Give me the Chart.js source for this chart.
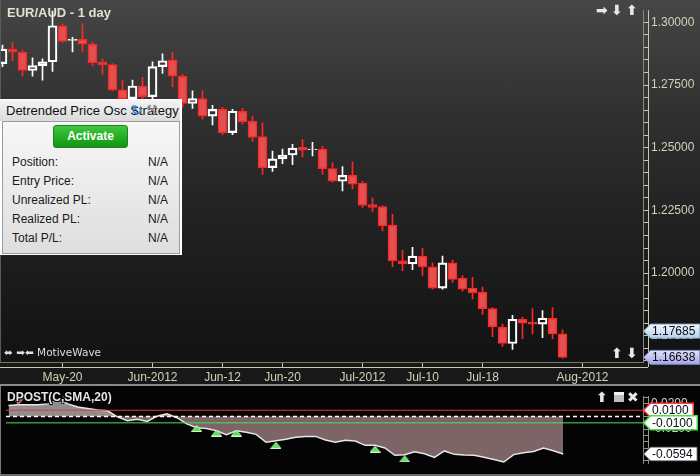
<!DOCTYPE html>
<html><head><meta charset="utf-8">
<script src="https://cdn.jsdelivr.net/npm/chart.js@4.4.0/dist/chart.umd.min.js"></script>
<style>
html,body{margin:0;padding:0;}
body{width:700px;height:476px;overflow:hidden;position:relative;background:#000;font-family:'Liberation Sans',Arial,sans-serif;}
#mainWrap{position:absolute;left:0;top:0;width:700px;height:384px;
 background:linear-gradient(to bottom,#464646 0px,#2f2f2f 120px,#1f1f1f 240px,#121212 362px,#181818 362px,#181818 384px);}
#sep{position:absolute;left:0;top:384px;width:700px;height:2px;background:#8a8a8a;}
#indWrap{position:absolute;left:0;top:386px;width:700px;height:88px;background:#040404;}
#botLine{position:absolute;left:0;top:474px;width:700px;height:2px;background:#6c6c6c;}
#leftLine1{position:absolute;left:0;top:0;width:1px;height:362px;background:#5a5a5a;}
#leftLine2{position:absolute;left:0;top:386px;width:1px;height:90px;background:#7a7a7a;}
canvas{position:absolute;left:0;top:0;}
.txt{position:absolute;white-space:nowrap;}
#title{left:7px;top:5px;font:bold 13px 'Liberation Sans',Arial,sans-serif;color:#e2e2cc;}
.ico{position:absolute;font:bold 14px 'DejaVu Sans',sans-serif;color:#e8e8e8;line-height:14px;}
#strat{position:absolute;left:0;top:99px;width:182px;height:156px;background:#ffffff;}
#hdr{position:absolute;left:0;top:1px;width:180px;height:21px;background:linear-gradient(#f4f4f4,#dadada);
 font:13px 'Liberation Sans',Arial,sans-serif;color:#111;line-height:21px;padding-left:6px;box-sizing:border-box;white-space:nowrap;overflow:hidden;}
#sbody{position:absolute;left:2px;top:22px;width:176px;height:131px;border:1px solid #9c9c9c;background:linear-gradient(#f7f7f7,#dedede);}
#btn{position:absolute;left:50px;top:3px;width:75px;height:23px;box-sizing:border-box;border:1px solid #2b7d2b;border-radius:3px;
 background:linear-gradient(#3fc83f,#0e960e);color:#fff;font:bold 12px 'Liberation Sans',Arial,sans-serif;text-align:center;line-height:21px;}
.row{position:absolute;left:9px;font:12px 'Liberation Sans',Arial,sans-serif;color:#1a1a1a;}
.val{position:absolute;left:145px;font:12px 'Liberation Sans',Arial,sans-serif;color:#1a1a1a;}
#mw{left:4px;top:346px;font:10.5px 'DejaVu Sans',sans-serif;color:#dedede;}
#dtitle{left:7px;top:390px;font:bold 12px 'Liberation Sans',Arial,sans-serif;color:#e4e4e4;
 text-shadow:1px 1px 0 #000,-1px -1px 0 #000,1px -1px 0 #000,-1px 1px 0 #000;}
#winIco{position:absolute;left:614px;top:392px;width:10px;height:10px;background:#bdbdbd;border-top:3px solid #f0f0f0;box-sizing:border-box;}
</style></head>
<body>
<div id="mainWrap"><canvas id="c1" width="700" height="384"></canvas></div>
<div id="sep"></div>
<div id="indWrap"><canvas id="c2" width="700" height="88"></canvas></div>
<div id="botLine"></div>
<div id="leftLine1"></div><div id="leftLine2"></div>

<div class="txt" id="title">EUR/AUD - 1 day</div>
<div class="ico" style="left:596px;top:3px;">➡</div>
<div class="ico" style="left:611px;top:3px;">⬇</div>
<div class="ico" style="left:626px;top:3px;">⬆</div>

<div id="strat">
  <div id="hdr">Detrended Price Osc Strategy</div>
  <div class="txt" style="left:131px;top:102px;position:fixed;font:bold 14px 'DejaVu Sans',sans-serif;color:#2f86d8;">↻</div>
  <div class="txt" style="left:146px;top:102px;position:fixed;font:13px 'DejaVu Sans',sans-serif;color:#8a8a8a;">⚒</div>
  <div id="sbody">
    <div id="btn">Activate</div>
    <div class="row" style="top:33px;">Position:</div><div class="val" style="top:33px;">N/A</div>
    <div class="row" style="top:52px;">Entry Price:</div><div class="val" style="top:52px;">N/A</div>
    <div class="row" style="top:71px;">Unrealized PL:</div><div class="val" style="top:71px;">N/A</div>
    <div class="row" style="top:90px;">Realized PL:</div><div class="val" style="top:90px;">N/A</div>
    <div class="row" style="top:109px;">Total P/L:</div><div class="val" style="top:109px;">N/A</div>
  </div>
</div>

<div class="txt" id="mw">⬌ ➡⬅ MotiveWave</div>
<div class="ico" style="left:611px;top:346px;">⬆</div>
<div class="ico" style="left:626px;top:346px;">⬇</div>

<div class="txt" id="dtitle">DPOST(C,SMA,20)</div>
<div class="ico" style="left:596px;top:390px;">⬆</div>
<div id="winIco"></div>
<div class="ico" style="left:627px;top:390px;">✖</div>

<script>
// ---------------- DATA ----------------
const opens  = [1.28353,1.28934,1.28818,1.28081,1.28275,1.28430,1.29864,1.29283,1.29322,1.29128,
                1.28430,1.28314,1.27306,1.26957,1.27461,1.27035,1.28236,1.28508,1.27849,1.26764,
                1.26957,1.26260,1.26531,1.25601,1.26454,1.26066,1.25446,1.24205,1.24554,1.24709,
                1.25019,1.24922,1.24942,1.24167,1.23663,1.23895,1.23585,1.22733,1.22655,1.21919,
                1.20484,1.20368,1.20678,1.20252,1.19399,1.20407,1.19787,1.19399,1.19244,1.18585,
                1.17849,1.17190,1.18159,1.18043,1.17965,1.18198,1.17577];
const highs  = [1.29089,1.29205,1.28895,1.28585,1.28547,1.30446,1.29942,1.29399,1.29942,1.29205,
                1.28547,1.28353,1.27694,1.27694,1.27810,1.28430,1.28740,1.28818,1.27926,1.27267,
                1.27267,1.26686,1.26609,1.26531,1.26570,1.26260,1.25988,1.24864,1.24942,1.25136,
                1.25329,1.25213,1.25058,1.24399,1.24244,1.24438,1.23663,1.23004,1.22694,1.22345,
                1.20911,1.21027,1.20988,1.20407,1.20678,1.20523,1.19903,1.19826,1.19438,1.18624,
                1.17965,1.18314,1.18236,1.18585,1.18508,1.18624,1.17733];
const lows   = [1.28236,1.28469,1.27849,1.27849,1.27694,1.28043,1.29205,1.28818,1.28818,1.28275,
                1.27926,1.27267,1.26841,1.26841,1.26686,1.26957,1.27965,1.27423,1.26609,1.26570,
                1.26143,1.25911,1.25523,1.25523,1.25950,1.25252,1.23934,1.24050,1.24360,1.24322,
                1.24632,1.24671,1.23934,1.23624,1.23275,1.23353,1.22616,1.22461,1.21686,1.20252,
                1.20097,1.20136,1.19903,1.19360,1.19360,1.19632,1.19283,1.18973,1.18353,1.17461,
                1.17074,1.16957,1.17384,1.17577,1.17422,1.17384,1.16608];
const closes = [1.28934,1.28818,1.28081,1.28275,1.28430,1.29864,1.29244,1.29322,1.29128,1.28392,
                1.28314,1.27306,1.26957,1.27461,1.27035,1.28236,1.28469,1.27849,1.26764,1.26957,
                1.26260,1.26531,1.25601,1.26454,1.26027,1.25407,1.24205,1.24554,1.24709,1.24981,
                1.24903,1.24942,1.24167,1.23663,1.23895,1.23547,1.22694,1.22616,1.21880,1.20484,
                1.20368,1.20678,1.20252,1.19399,1.20407,1.19748,1.19360,1.19205,1.18585,1.17849,
                1.17190,1.18159,1.18004,1.17965,1.18198,1.17577,1.16638];
const dpo    = [0.0177,0.0189,0.0189,0.0189,0.0201,0.0274,0.0201,0.0152,0.0128,0.0104,
                0.0091,-0.0006,-0.0067,-0.0043,-0.0079,0.0006,0.0043,-0.0018,-0.0116,-0.0177,
                -0.0189,-0.0226,-0.0287,-0.0226,-0.0250,-0.0283,-0.0409,-0.0384,-0.0360,-0.0329,
                -0.0317,-0.0315,-0.0372,-0.0409,-0.0376,-0.0388,-0.0457,-0.0457,-0.0498,-0.0616,
                -0.0607,-0.0559,-0.0591,-0.0649,-0.0546,-0.0600,-0.0610,-0.0616,-0.0646,-0.0683,
                -0.0722,-0.0604,-0.0573,-0.0555,-0.0498,-0.0543,-0.0594];
const dateTickIdx    = [6, 15, 22, 28, 36, 42, 48, 58];
const dateTickLabels = ["May-20","Jun-2012","Jun-12","Jun-20","Jul-2012","Jul-10","Jul-18","Aug-2012"];
const buyIdx   = [19, 21, 23, 27, 37, 40];
const buyVals  = [-0.0189, -0.0262, -0.0262, -0.0457, -0.0518, -0.0673];
const sellIdx  = [1, 6];
const sellVals = [0.0246, 0.0287];
const priceTags = [1.17685, 1.16638];
const oscUpper = 0.0100, oscLower = -0.0100, oscZero = 0;
const oscLast  = -0.0594;

// ---------------- SETUP ----------------
const FONT = "'Liberation Sans', Arial, sans-serif";
const AXC = '#d2d2b6';
const XMIN = -0.25, XMAX = 64.05;
const idx = opens.map((_, i) => i);
const up = idx.map(i => closes[i] >= opens[i]);
const UPC = '#ffffff', DNFILL = '#e45050', DNLINE = '#ff2626';

function drawTag(ctx, y, text, fill, stroke, lw) {
  ctx.save();
  ctx.font = '12px ' + FONT;
  const w = ctx.measureText(text).width + 13;
  const x0 = 643.5, h = 14;
  ctx.beginPath();
  ctx.moveTo(x0, y);
  ctx.lineTo(x0 + 7, y - h / 2);
  ctx.lineTo(x0 + w, y - h / 2);
  ctx.lineTo(x0 + w, y + h / 2);
  ctx.lineTo(x0 + 7, y + h / 2);
  ctx.closePath();
  ctx.fillStyle = fill; ctx.fill();
  ctx.lineWidth = lw; ctx.strokeStyle = stroke; ctx.stroke();
  ctx.fillStyle = '#0c0c18'; ctx.textBaseline = 'middle'; ctx.textAlign = 'left';
  ctx.fillText(text, 652, y + 0.5);
  ctx.restore();
}

const mainExtras = {
  id: 'mainExtras',
  afterDraw(chart) {
    const ctx = chart.ctx, a = chart.chartArea, ys = chart.scales.y;
    ctx.save();
    ctx.strokeStyle = '#c8c8ae'; ctx.lineWidth = 1;
    ctx.beginPath(); ctx.moveTo(0, a.bottom + 5.5); ctx.lineTo(648, a.bottom + 5.5); ctx.stroke();
    ctx.beginPath(); ctx.moveTo(648.5, a.top); ctx.lineTo(648.5, a.bottom + 5); ctx.stroke();
    ctx.restore();
    const y1 = ys.getPixelForValue(priceTags[0]);
    const g1 = ctx.createLinearGradient(0, y1 - 7, 0, y1 + 7);
    g1.addColorStop(0, '#f2f8ff'); g1.addColorStop(1, '#b2d0e8');
    drawTag(ctx, y1, priceTags[0].toFixed(5), g1, '#8fb0cc', 1);
    const y2 = ys.getPixelForValue(priceTags[1]);
    const g2 = ctx.createLinearGradient(0, y2 - 7, 0, y2 + 7);
    g2.addColorStop(0, '#e2e2ff'); g2.addColorStop(1, '#a4a4e4');
    drawTag(ctx, y2, priceTags[1].toFixed(5), g2, '#8080c0', 1);
  }
};

new Chart(document.getElementById('c1'), {
  type: 'bar',
  data: { datasets: [
    { data: idx.map(i => ({x: i, y: [Math.max(opens[i], closes[i]), highs[i]]})),
      backgroundColor: idx.map(i => up[i] ? UPC : DNLINE), borderWidth: 0,
      barThickness: 1, grouped: false, order: 2 },
    { data: idx.map(i => ({x: i, y: [lows[i], Math.min(opens[i], closes[i])]})),
      backgroundColor: idx.map(i => up[i] ? UPC : DNLINE), borderWidth: 0,
      barThickness: 1, grouped: false, order: 2 },
    { data: idx.map(i => ({x: i, y: [opens[i], closes[i]]})),
      backgroundColor: idx.map(i => up[i] ? 'rgba(0,0,0,0)' : DNFILL),
      borderColor: idx.map(i => up[i] ? UPC : DNLINE),
      borderWidth: 1.5, borderSkipped: false, barThickness: 9, grouped: false, order: 1 }
  ]},
  options: {
    responsive: false, animation: false, devicePixelRatio: 1,
    layout: { padding: 0 },
    plugins: { legend: { display: false }, tooltip: { enabled: false } },
    scales: {
      x: { type: 'linear', min: XMIN, max: XMAX, offset: false, position: 'bottom',
        afterBuildTicks: s => { s.ticks = dateTickIdx.map(v => ({ value: v })); },
        afterFit: s => { s.height = 22; },
        ticks: { autoSkip: false, maxRotation: 0, padding: 3, color: AXC, font: { family: FONT, size: 12 },
          callback: v => { const k = dateTickIdx.indexOf(v); return k >= 0 ? dateTickLabels[k] : ''; } },
        grid: { display: true, offset: false, drawOnChartArea: false, drawTicks: true, tickLength: 5, color: '#c8c8ae', tickColor: '#c8c8ae' },
        border: { display: true, color: '#77776c' } },
      y: { type: 'linear', position: 'right', min: 1.164535, max: 1.304845,
        afterFit: s => { s.width = 57; },
        ticks: { stepSize: 0.005, includeBounds: false, autoSkip: false, padding: 3, color: AXC,
          font: { family: FONT, size: 12 },
          callback: v => (Math.round(v * 1000) % 25 === 0) ? v.toFixed(5) : '' },
        grid: { drawOnChartArea: false, drawTicks: true, tickLength: 5, color: '#c8c8ae', tickColor: '#c8c8ae' },
        border: { display: true, color: '#8a8a7c' } }
    }
  },
  plugins: [mainExtras]
});

// ---------------- OSCILLATOR ----------------
function triCanvas(down, fill, edge) {
  const c = document.createElement('canvas'); c.width = 11; c.height = 7;
  const t = c.getContext('2d');
  t.beginPath();
  if (down) { t.moveTo(0.5, 0.5); t.lineTo(10.5, 0.5); t.lineTo(5.5, 6.5); }
  else { t.moveTo(5.5, 0.5); t.lineTo(10.5, 6.5); t.lineTo(0.5, 6.5); }
  t.closePath(); t.fillStyle = fill; t.fill(); t.strokeStyle = edge; t.lineWidth = 1; t.stroke();
  return c;
}
const triUp = triCanvas(false, '#5ee05e', '#c8ffc8');
const triDn = triCanvas(true, '#e02a2a', '#ffc8c8');

const oscExtras = {
  id: 'oscExtras',
  afterDraw(chart) {
    const ctx = chart.ctx, a = chart.chartArea, ys = chart.scales.y;
    ctx.save();
    ctx.strokeStyle = '#9a9a8a'; ctx.lineWidth = 1;
    ctx.beginPath(); ctx.moveTo(648.5, a.top); ctx.lineTo(648.5, a.bottom); ctx.stroke();
    ctx.restore();
    drawTag(ctx, ys.getPixelForValue(oscUpper), oscUpper.toFixed(4), '#ffffff', '#ff3a3a', 1.5);
    drawTag(ctx, ys.getPixelForValue(oscLower), oscLower.toFixed(4), '#ffffff', '#48e048', 1.5);
    drawTag(ctx, ys.getPixelForValue(oscLast), oscLast.toFixed(4), '#ffffff', '#303030', 1);
  }
};

new Chart(document.getElementById('c2'), {
  type: 'line',
  data: { datasets: [
    { data: idx.map(i => ({x: i, y: dpo[i]})), borderColor: '#e6e6e6', borderWidth: 1.5, pointRadius: 0,
      fill: { target: 'origin', above: '#8e8e8e', below: '#7c6467' }, order: 5 },
    { data: [{x: XMIN, y: oscUpper}, {x: XMAX, y: oscUpper}], borderColor: '#e63636', borderWidth: 1, pointRadius: 0, fill: false, order: 3 },
    { data: [{x: XMIN, y: oscLower}, {x: XMAX, y: oscLower}], borderColor: '#52e052', borderWidth: 1, pointRadius: 0, fill: false, order: 3 },
    { data: [{x: XMIN, y: oscZero}, {x: XMAX, y: oscZero}], borderColor: '#ffffff', borderWidth: 1.5, borderDash: [4, 3], pointRadius: 0, fill: false, order: 3 },
    { type: 'scatter', data: buyIdx.map((k, j) => ({x: k, y: buyVals[j]})), pointStyle: triUp, pointRadius: 5, order: 1 },
    { type: 'scatter', data: sellIdx.map((k, j) => ({x: k, y: sellVals[j]})), pointStyle: triDn, pointRadius: 5, order: 1 }
  ]},
  options: {
    responsive: false, animation: false, devicePixelRatio: 1,
    layout: { padding: 0 },
    plugins: { legend: { display: false }, tooltip: { enabled: false } },
    scales: {
      x: { type: 'linear', min: XMIN, max: XMAX, display: false },
      y: { type: 'linear', position: 'right', min: -0.075, max: 0.0323,
        afterFit: s => { s.width = 57; },
        ticks: { stepSize: 0.01, includeBounds: false, autoSkip: false, padding: 3, color: AXC,
          font: { family: FONT, size: 12 },
          callback: v => ((Math.round(v * 1000) + 20) % 40 === 0) ? v.toFixed(4) : '' },
        grid: { drawOnChartArea: false, drawTicks: true, tickLength: 5, color: '#9a9a8a', tickColor: '#9a9a8a' },
        border: { display: true, color: '#8a8a7c' } }
    }
  },
  plugins: [oscExtras]
});
</script>
</body></html>
